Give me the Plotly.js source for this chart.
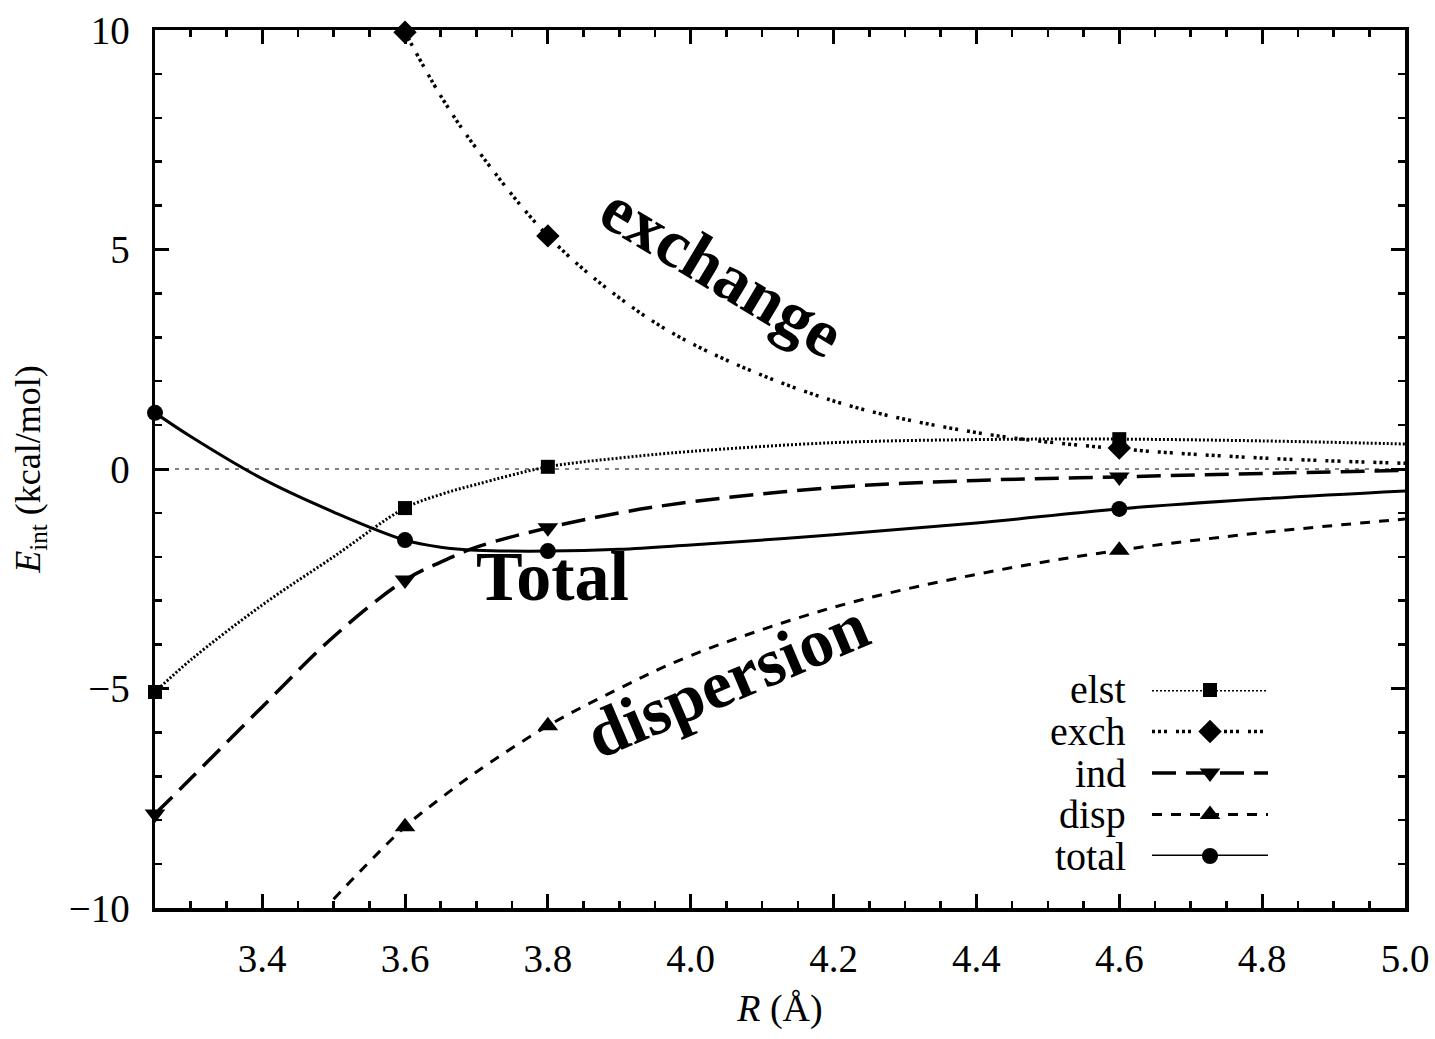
<!DOCTYPE html>
<html>
<head>
<meta charset="utf-8">
<script src="https://cdn.plot.ly/plotly-3.0.1.min.js"></script>
<style>html,body{margin:0;padding:0;background:#fff;}#chart{width:1435px;height:1039px;}</style>
</head>
<body>
<div id="chart"></div>
<script>
// Curve readings (R grid in Å, energies in kcal/mol)
const R = [3.25, 3.3, 3.4, 3.5, 3.6, 3.65, 3.7, 3.8, 3.9, 4.0, 4.2, 4.4, 4.6, 4.8, 5.0];
const elstCurve  = [-5.08, -4.35, -3.1, -2.0, -0.89, -0.58, -0.35, 0.05, 0.25, 0.40, 0.60, 0.67, 0.68, 0.64, 0.57];
const exchCurve  = [null, null, null, null, 9.95, 8.5, 7.3, 5.31, 3.9, 2.87, 1.55, 0.83, 0.46, 0.25, 0.13];
const indCurve   = [-7.86, -7.05, -5.42, -3.82, -2.53, -2.12, -1.78, -1.34, -1.0, -0.75, -0.42, -0.26, -0.18, -0.10, -0.03];
const dispCurve  = [null, null, null, -9.8, -8.15, -7.5, -6.9, -5.85, -5.0, -4.25, -3.15, -2.4, -1.85, -1.45, -1.14];
const totalCurve = [1.28, 0.74, -0.22, -0.98, -1.62, -1.78, -1.85, -1.87, -1.83, -1.73, -1.50, -1.23, -0.91, -0.68, -0.50];

// Computed points (markers)
const Rpts = [3.25, 3.6, 3.8, 4.6];
const elstPts  = [-5.08, -0.89, 0.05, 0.68];
const exchPts  = [null, 9.95, 5.31, 0.48];
const indPts   = [-7.86, -2.53, -1.34, -0.18];
const dispPts  = [null, -8.15, -5.85, -1.85];
const totalPts = [1.28, -1.62, -1.87, -0.91];

const names = ['elst', 'exch', 'ind', 'disp', 'total'];
const xTicks = [3.4, 3.6, 3.8, 4.0, 4.2, 4.4, 4.6, 4.8, 5.0];
const yTicks = [-10, -5, 0, 5, 10];

const styles = {
  elst:  {dash: '2px,2px', width: 3, symbol: 'square', size: 14},
  exch:  {dash: '3px,3px,3px,3px,3px,9px', width: 3.5, symbol: 'diamond', size: 18},
  ind:   {dash: '24px,10px', width: 3.5, symbol: 'triangle-down', size: 18},
  disp:  {dash: '10px,9px', width: 3, symbol: 'triangle-up', size: 18},
  total: {dash: 'solid', width: 3, symbol: 'circle', size: 16}
};
const curves = {elst: elstCurve, exch: exchCurve, ind: indCurve, disp: dispCurve, total: totalCurve};
const pts = {elst: elstPts, exch: exchPts, ind: indPts, disp: dispPts, total: totalPts};

const FONT = "'Liberation Serif', 'Times New Roman', serif";
const traces = [];
names.forEach(n => {
  const s = styles[n];
  traces.push({
    x: R, y: curves[n], mode: 'lines', name: n, showlegend: false, connectgaps: false,
    line: {color: 'black', width: s.width, dash: s.dash, shape: 'spline', smoothing: 1},
    hoverinfo: 'skip'
  });
  traces.push({
    x: Rpts, y: pts[n], mode: 'markers', name: n, showlegend: false, cliponaxis: false,
    marker: {color: 'black', symbol: s.symbol, size: s.size, line: {width: 0}}
  });
});

// Legend keys (drawn on a hidden helper axis) + labels
const legTop = 0.2483, legBot = 0.0592;
const annotations = [];
names.forEach((n, i) => {
  const s = styles[n];
  traces.push({
    x: [0, 1], y: [-i, -i], xaxis: 'x2', yaxis: 'y2', mode: 'lines',
    showlegend: false, cliponaxis: false, hoverinfo: 'skip',
    line: {color: 'black', width: s.width, dash: s.dash}
  });
  traces.push({
    x: [0.5], y: [-i], xaxis: 'x2', yaxis: 'y2', mode: 'markers',
    showlegend: false, cliponaxis: false, hoverinfo: 'skip',
    marker: {color: 'black', symbol: s.symbol, size: s.size, line: {width: 0}}
  });
  annotations.push({
    xref: 'paper', yref: 'paper', x: 0.7784, y: legTop - i * (legTop - legBot) / 4,
    xanchor: 'right', yanchor: 'middle',
    text: n, showarrow: false, font: {family: FONT, size: 40, color: 'black'}
  });
});

annotations.push(
  {x: 4.044, y: 4.5, xref: 'x', yref: 'y', text: 'exchange', showarrow: false, textangle: 31,
   font: {family: FONT, size: 68, color: 'black', weight: 'bold'}},
  {x: 3.807, y: -2.46, xref: 'x', yref: 'y', text: 'Total', showarrow: false,
   font: {family: FONT, size: 70, color: 'black', weight: 'bold'}},
  {x: 4.051, y: -4.81, xref: 'x', yref: 'y', text: 'dispersion', showarrow: false, textangle: -23,
   font: {family: FONT, size: 68, color: 'black', weight: 'bold'}}
);

const axisCommon = {
  showline: true, linewidth: 3.5, linecolor: 'black', mirror: 'allticks',
  ticks: 'inside', ticklen: 14, tickwidth: 3, tickcolor: 'black',
  showgrid: false, zeroline: false,
  tickfont: {family: FONT, size: 39, color: 'black'}
};

const layout = {
  width: 1435, height: 1039,
  margin: {l: 155, r: 30, t: 30, b: 131},
  paper_bgcolor: 'white', plot_bgcolor: 'white',
  showlegend: false,
  font: {family: FONT, color: 'black'},
  xaxis: Object.assign({}, axisCommon, {
    range: [3.25, 5.0], tickmode: 'array', tickvals: xTicks,
    ticktext: xTicks.map(v => v.toFixed(1)), ticklabelstandoff: 14,
    minor: {ticks: 'inside', ticklen: 7, tickwidth: 2.5, dtick: 0.05, tick0: 3.25, tickcolor: 'black', showgrid: false},
    title: {text: '<i>R</i> (Å)', font: {family: FONT, size: 38, color: 'black'}, standoff: 16}
  }),
  yaxis: Object.assign({}, axisCommon, {
    range: [-10, 10], tickmode: 'array', tickvals: yTicks, ticklabelstandoff: 14,
    minor: {ticks: 'inside', ticklen: 7, tickwidth: 2.5, dtick: 1, tick0: 0, tickcolor: 'black', showgrid: false},
    title: {text: '<i>E</i><sub>int</sub> (kcal/mol)', font: {family: FONT, size: 36, color: 'black'}, standoff: 18}
  }),
  xaxis2: {domain: [0.7976, 0.8904], anchor: 'y2', range: [0, 1], visible: false, fixedrange: true},
  yaxis2: {domain: [legBot, legTop], anchor: 'x2', range: [-4, 0], visible: false, fixedrange: true},
  shapes: [{type: 'line', xref: 'paper', x0: 0, x1: 1, yref: 'y', y0: 0, y1: 0, layer: 'below',
            line: {color: 'black', width: 1.2, dash: '4px,6px'}}],
  annotations: annotations
};

Plotly.newPlot('chart', traces, layout, {displayModeBar: false, staticPlot: true});
</script>
</body>
</html>
